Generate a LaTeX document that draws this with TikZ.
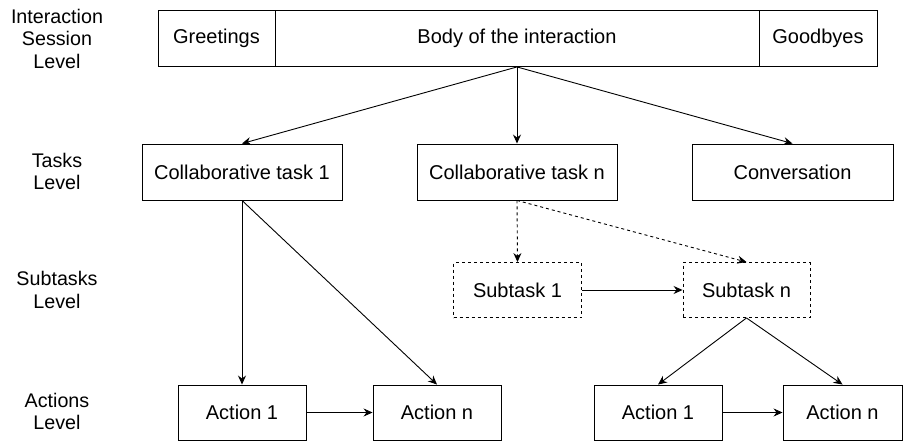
\documentclass[tikz,border=0pt]{standalone}
\usepackage{fontspec}
\setmainfont{Liberation Sans}
\usetikzlibrary{arrows.meta}
\tikzset{
  box/.style={draw, line width=0.9pt, inner sep=0pt, minimum height=56pt, font=\fontsize{20}{22}\selectfont},
  dbox/.style={box, dashed, dash pattern=on 3pt off 3pt},
  lvl/.style={align=center, inner sep=0pt, font=\fontsize{19.7}{22.5}\selectfont},
  arr/.style={line width=0.9pt, -{Stealth[length=9pt,width=8pt,inset=3pt]}},
  darr/.style={arr, dash pattern=on 3pt off 3pt},
}
\begin{document}
\begin{tikzpicture}[x=1pt,y=-1pt]
\useasboundingbox (0,0) rectangle (903,441);
% level labels
\node[lvl] (l1) at (57,38.5) {Interaction\\Session\\Level};
\node[lvl] (l2) at (57,171.5) {Tasks\\Level};
\node[lvl] (l3) at (57,290) {Subtasks\\Level};
\node[lvl] (l4) at (57,411.5) {Actions\\Level};
% top bar
\node[box, minimum width=117pt] (greet) at (216.5,38.5) {Greetings};
\node[box, minimum width=484pt] (body) at (517,38.5) {Body of the interaction};
\node[box, minimum width=118pt] (bye) at (818,38.5) {Goodbyes};
% tasks
\node[box, minimum width=200pt] (ct1) at (242,172) {Collaborative task 1};
\node[box, minimum width=200pt] (ctn) at (517,172) {Collaborative task n};
\node[box, minimum width=201pt] (conv) at (792.5,172) {Conversation};
% subtasks
\node[dbox, minimum width=128pt, minimum height=55pt] (st1) at (517.5,290) {Subtask 1};
\node[dbox, minimum width=127pt, minimum height=55pt] (stn) at (746.5,290) {Subtask n};
% actions
\node[box, minimum width=128pt, minimum height=55pt] (a1) at (242,412.5) {Action 1};
\node[box, minimum width=128pt, minimum height=55pt] (an) at (437,412.5) {Action n};
\node[box, minimum width=128pt, minimum height=55pt] (b1) at (658,412.5) {Action 1};
\node[box, minimum width=119pt, minimum height=55pt] (bn) at (842.5,412.5) {Action n};
% connectors
\draw[arr] (body.south) -- (ct1.north);
\draw[arr] (body.south) -- (ctn.north);
\draw[arr] (body.south) -- (conv.north);
\draw[arr] (ct1.south) -- (a1.north);
\draw[arr] (ct1.south) -- (an.north);
\draw[arr] (a1.east) -- (an.west);
\draw[darr] (ctn.south) -- (st1.north);
\draw[darr] (ctn.south) -- (stn.north);
\draw[arr] (st1.east) -- (stn.west);
\draw[arr] (stn.south) -- (b1.north);
\draw[arr] (stn.south) -- (bn.north);
\draw[arr] (b1.east) -- (bn.west);
\end{tikzpicture}
\end{document}
